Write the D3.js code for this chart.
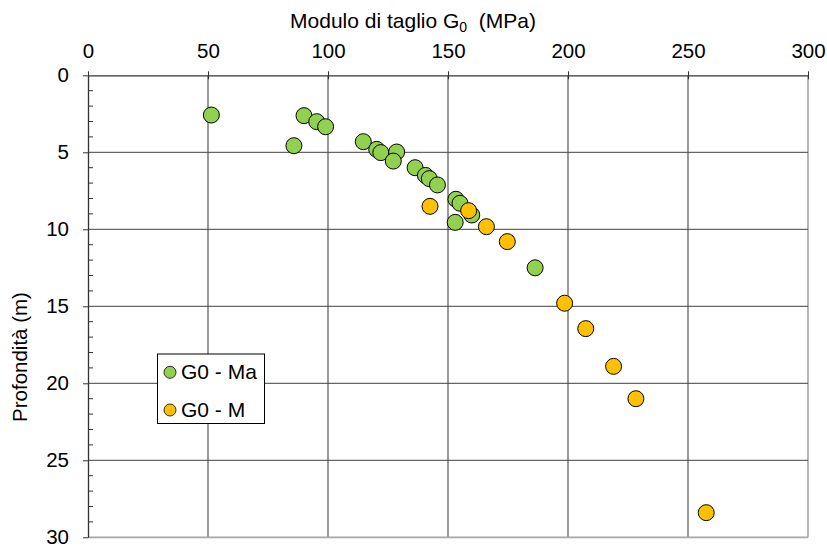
<!DOCTYPE html>
<html>
<head>
<meta charset="utf-8">
<script src="https://cdn.jsdelivr.net/npm/d3@7"></script>
<style>
  body { margin: 0; background: #fff; }
  text { font-family: "Liberation Sans", Arial, sans-serif; fill: #000; }
</style>
</head>
<body>
<div id="chart"></div>
<script>
// G0 - Ma (green)
var maG0 = [51.4, 90, 95.3, 99, 85.8, 114.7, 120.3, 122, 128.6, 127.2, 136.3, 140.6, 142.2, 145.6, 153.3, 155, 159.9, 153, 186.3];
var maDepth = [2.58, 2.62, 3.01, 3.34, 4.57, 4.31, 4.81, 5.02, 4.98, 5.57, 6.0, 6.5, 6.71, 7.12, 8.05, 8.31, 9.07, 9.55, 12.5];
// G0 - M (orange)
var mG0 = [142.5, 158.6, 166, 174.7, 198.6, 207.4, 219, 228.3, 257.6];
var mDepth = [8.51, 8.79, 9.83, 10.8, 14.8, 16.45, 18.9, 21.0, 28.4];

var xTicks = [0, 50, 100, 150, 200, 250, 300];
var yTicks = [0, 5, 10, 15, 20, 25, 30];
var seriesNames = ["G0 - Ma", "G0 - M"];
var seriesColors = ["#92d050", "#ffc000"];

var width = 827, height = 548;
var pLeft = 88, pRight = 808, pTop = 75.3, pBottom = 537.3;
var fontSize = '20.5px';

var svg = d3.select('#chart')
  .append('svg')
  .attr('width', width)
  .attr('height', height)

var x = d3.scaleLinear().domain([0, 300]).range([pLeft, pRight]);
var y = d3.scaleLinear().domain([0, 30]).range([pTop, pBottom]);

// grid
svg.selectAll('.vgrid')
  .data(xTicks.slice(1))
  .join('line')
  .attr('x1', d => x(d)).attr('x2', d => x(d))
  .attr('y1', pTop).attr('y2', pBottom)
  .attr('stroke', d => d == 300 ? '#a6a6a6' : '#808080')
  .attr('stroke-width', 1.6)

svg.selectAll('.hgrid')
  .data(yTicks.slice(1))
  .join('line')
  .attr('x1', pLeft).attr('x2', pRight)
  .attr('y1', d => y(d)).attr('y2', d => y(d))
  .attr('stroke', d => d == 30 ? '#a6a6a6' : '#404040')
  .attr('stroke-width', d => d == 30 ? 1.8 : 1)

// axes
var xAxis = svg.append('g')
  .attr('transform', 'translate(0,' + pTop + ')')
  .call(d3.axisTop(x).tickValues(xTicks).tickSize(4).tickSizeOuter(0))
xAxis.select('.domain').attr('stroke', '#333').attr('stroke-width', 1.3)
xAxis.selectAll('.tick line').attr('stroke', '#333').attr('y2', 4).attr('y1', -4)
xAxis.selectAll('.tick text')
  .attr('y', -17)
  .style('font-size', fontSize)
  .style('font-family', '"Liberation Sans", Arial, sans-serif')

var yAxis = svg.append('g')
  .attr('transform', 'translate(' + pLeft + ',0)')
  .call(d3.axisLeft(y).tickValues(yTicks).tickSize(5).tickSizeOuter(0))
yAxis.select('.domain').attr('stroke', '#333').attr('stroke-width', 1.3)
yAxis.selectAll('.tick line').attr('stroke', '#333')
yAxis.selectAll('.tick text')
  .attr('x', -19)
  .style('font-size', fontSize)
  .style('font-family', '"Liberation Sans", Arial, sans-serif')

// minor ticks on depth axis
var minor = d3.range(0, 31).filter(d => d % 5 != 0);
svg.selectAll('.minor')
  .data(minor)
  .join('line')
  .attr('x1', pLeft).attr('x2', pLeft + 5)
  .attr('y1', d => y(d)).attr('y2', d => y(d))
  .attr('stroke', '#333')
  .attr('stroke-width', 1)

// titles
var title = svg.append('text')
  .attr('x', 413)
  .attr('y', 28)
  .attr('text-anchor', 'middle')
  .style('font-size', '21px')
title.append('tspan').text('Modulo di taglio G')
title.append('tspan').attr('dy', 4).style('font-size', '14px').text('0')
title.append('tspan').attr('dy', -4).text('\u00a0 (MPa)')

svg.append('text')
  .attr('transform', 'translate(26.5,357) rotate(-90)')
  .attr('text-anchor', 'middle')
  .style('font-size', fontSize)
  .text('Profondità (m)')

// points
var maData = maG0.map((v, i) => ({ g: v, z: maDepth[i] }));
var mData = mG0.map((v, i) => ({ g: v, z: mDepth[i] }));

svg.append('g').selectAll('circle')
  .data(maData)
  .join('circle')
  .attr('cx', d => x(d.g))
  .attr('cy', d => y(d.z))
  .attr('r', 8)
  .attr('fill', seriesColors[0])
  .attr('stroke', '#000')
  .attr('stroke-width', 1)

svg.append('g').selectAll('circle')
  .data(mData)
  .join('circle')
  .attr('cx', d => x(d.g))
  .attr('cy', d => y(d.z))
  .attr('r', 8)
  .attr('fill', seriesColors[1])
  .attr('stroke', '#000')
  .attr('stroke-width', 1)

// legend
var legend = svg.append('g')
legend.append('rect')
  .attr('x', 157.5).attr('y', 354)
  .attr('width', 107).attr('height', 69.5)
  .attr('fill', '#fff')
  .attr('stroke', '#000')
  .attr('stroke-width', 1)

var items = legend.selectAll('.item')
  .data(seriesNames)
  .join('g')
  .attr('transform', (d, i) => 'translate(170,' + (372.3 + i * 37.7) + ')')
items.append('circle')
  .attr('r', 6)
  .attr('fill', (d, i) => seriesColors[i])
  .attr('stroke', '#000')
  .attr('stroke-width', 0.8)
items.append('text')
  .attr('x', 11)
  .attr('y', 7)
  .style('font-size', '21px')
  .text(d => d)
</script>
</body>
</html>
